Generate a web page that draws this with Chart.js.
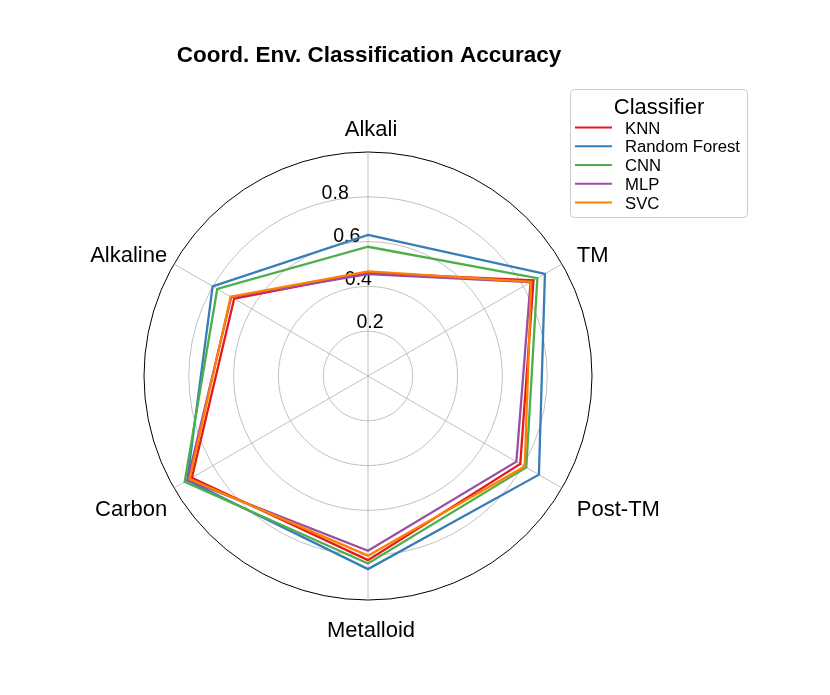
<!DOCTYPE html>
<html>
<head>
<meta charset="utf-8">
<script src="https://cdn.jsdelivr.net/npm/chart.js@4.4.0/dist/chart.umd.min.js"></script>
<style>
  html, body { margin: 0; background: #fff; }
  canvas { display: block; }
</style>
</head>
<body>
<canvas id="chart" width="830" height="695"></canvas>
<script>
// Radar axes, clockwise from the top
const categories = ['Alkali', 'TM', 'Post-TM', 'Metalloid', 'Carbon', 'Alkaline'];
const classifiers = ['KNN', 'Random Forest', 'CNN', 'MLP', 'SVC'];

// accuracy per category
const knn          = [0.460, 0.853, 0.785, 0.822, 0.908, 0.690];
const randomForest = [0.630, 0.912, 0.881, 0.862, 0.932, 0.801];
const cnn          = [0.577, 0.873, 0.816, 0.837, 0.945, 0.777];
const mlp          = [0.455, 0.838, 0.765, 0.780, 0.930, 0.705];
const svc          = [0.467, 0.841, 0.808, 0.802, 0.920, 0.708];

const tickValues = [0.2, 0.4, 0.6, 0.8];
const titleText = 'Coord. Env. Classification Accuracy';
const legendTitle = 'Classifier';

const colors = ['#e41a1c', '#377eb8', '#4daf4a', '#984ea3', '#ff7f00'];
const FONT = '"Liberation Sans", Arial, Helvetica, sans-serif';
const seriesData = [knn, randomForest, cnn, mlp, svc];

// title, axis labels, radial tick labels and the legend box
const decor = {
  id: 'decor',
  beforeDatasetsDraw(chart) {
    const ctx = chart.ctx;
    const r = chart.scales.r;
    const a = 15 * Math.PI / 180;
    ctx.save();
    ctx.fillStyle = '#000';
    ctx.font = '19.5px ' + FONT;
    ctx.textAlign = 'left';
    ctx.textBaseline = 'bottom';
    tickValues.forEach(v => {
      const d = r.getDistanceFromCenterForValue(v);
      ctx.fillText(v.toFixed(1), r.xCenter - d * Math.sin(a), r.yCenter - d * Math.cos(a));
    });
    ctx.restore();
  },
  afterDraw(chart) {
    const ctx = chart.ctx;
    const r = chart.scales.r;
    ctx.save();
    ctx.fillStyle = '#000';

    // title
    ctx.font = 'bold 22.5px ' + FONT;
    ctx.textAlign = 'center';
    ctx.textBaseline = 'alphabetic';
    ctx.fillText(titleText, 369, 62);

    // category labels
    ctx.font = '22px ' + FONT;
    const half = 7.9; // half cap height
    categories.forEach((lab, i) => {
      const ang = i * 2 * Math.PI / categories.length;
      const s = Math.sin(ang), c = Math.cos(ang);
      if (Math.abs(s) < 0.1) {
        ctx.textAlign = 'center';
        ctx.fillText(lab, r.xCenter + 3, r.yCenter + 2.5 - c * 250.5 + half);
      } else {
        ctx.textAlign = s > 0 ? 'left' : 'right';
        ctx.fillText(lab, r.xCenter + 4 + s * 236.5, r.yCenter + 5 - c * 254 + half);
      }
    });

    // legend
    const bx = 570.5, by = 89.5, bw = 177, bh = 128;
    ctx.fillStyle = 'rgba(255,255,255,0.8)';
    ctx.strokeStyle = '#cccccc';
    ctx.lineWidth = 1;
    ctx.beginPath();
    ctx.roundRect(bx, by, bw, bh, 4);
    ctx.fill();
    ctx.stroke();

    ctx.fillStyle = '#000';
    ctx.font = '22px ' + FONT;
    ctx.textAlign = 'center';
    ctx.textBaseline = 'alphabetic';
    ctx.fillText(legendTitle, 659, 113.5);

    ctx.font = '16.7px ' + FONT;
    ctx.textAlign = 'left';
    classifiers.forEach((name, i) => {
      const y = 127.5 + i * 18.75;
      ctx.strokeStyle = colors[i];
      ctx.lineWidth = 2.2;
      ctx.beginPath();
      ctx.moveTo(575, y);
      ctx.lineTo(612, y);
      ctx.stroke();
      ctx.fillStyle = '#000';
      ctx.fillText(name, 625, y + 6);
    });
    ctx.restore();
  }
};

new Chart(document.getElementById('chart'), {
  type: 'radar',
  data: {
    labels: categories,
    datasets: classifiers.map((name, i) => ({
      label: name,
      data: seriesData[i],
      borderColor: colors[i],
      backgroundColor: 'transparent',
      borderWidth: 2.3,
      pointRadius: 0,
      fill: false,
      tension: 0,
      order: classifiers.length - i
    }))
  },
  options: {
    responsive: false,
    devicePixelRatio: 1,
    animation: false,
    layout: { padding: { left: 144, right: 238, top: 152, bottom: 95 } },
    plugins: {
      legend: { display: false },
      title: { display: false },
      tooltip: { enabled: false }
    },
    scales: {
      r: {
        min: 0,
        max: 1,
        ticks: { display: false, stepSize: 0.2 },
        pointLabels: { display: false },
        grid: {
          circular: true,
          color: ctx => (ctx.tick && ctx.tick.value >= 0.999 ? '#000000' : '#b0b0b0'),
          lineWidth: ctx => (ctx.tick && ctx.tick.value >= 0.999 ? 1 : 0.8)
        },
        angleLines: { color: '#b0b0b0', lineWidth: 0.8 }
      }
    }
  },
  plugins: [decor]
});
</script>
</body>
</html>
